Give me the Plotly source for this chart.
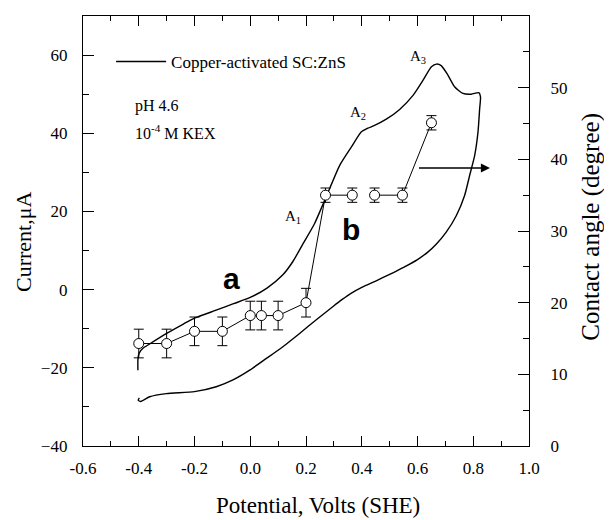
import plotly.graph_objects as go

# ---- Cyclic voltammogram (left axis) ----
cv_potential = [-0.403, -0.403, -0.399, -0.385, -0.361, -0.30, -0.24, -0.20, -0.12, -0.06,
                0.0, 0.06, 0.117, 0.153, 0.189, 0.23, 0.268, 0.321, 0.363, 0.398,
                0.422, 0.446, 0.488, 0.536, 0.584, 0.62, 0.65, 0.668, 0.685, 0.709,
                0.733, 0.763, 0.793, 0.82, 0.826,
                0.823, 0.817, 0.805, 0.787, 0.769, 0.739, 0.703, 0.667, 0.637, 0.60,
                0.55, 0.50, 0.45, 0.40, 0.36, 0.33, 0.297, 0.237, 0.177, 0.117,
                0.058, -0.002, -0.062, -0.122, -0.20, -0.301, -0.361, -0.393, -0.402, -0.398]
cv_current = [-20.6, -18.0, -16.3, -15.0, -13.9, -11.2, -8.8, -7.3, -5.2, -3.6,
              -2.0, 0.4, 3.8, 7.2, 11.7, 16.8, 23.0, 31.8, 36.5, 40.3,
              41.3, 42.0, 43.6, 46.1, 49.7, 53.6, 57.0, 57.7, 57.3, 54.9,
              51.9, 50.2, 50.0, 50.4, 49.3,
              46.3, 40.3, 34.3, 29.2, 24.1, 18.9, 14.7, 11.6, 9.6, 7.7,
              5.7, 3.9, 2.2, 0.6, -1.0, -2.5, -4.3, -7.7, -11.2, -14.6,
              -17.6, -20.6, -23.1, -24.85, -26.1, -26.6, -27.4, -28.6, -28.3, -27.7]

# ---- Contact angle (right axis) ----
ca_potential = [-0.4, -0.3, -0.2, -0.1, 0.0, 0.04, 0.1, 0.2, 0.27, 0.366, 0.446, 0.546, 0.65]
ca_angle = [14.3, 14.3, 16.0, 16.0, 18.2, 18.2, 18.2, 20.0, 35.0, 35.0, 35.0, 35.0, 45.1]
ca_error = [2, 2, 2, 2, 2, 2, 2, 2, 1, 1, 1, 1, 1]
ca_line_break = 10  # no connecting segment between 0.366 V and 0.446 V

x_ticks = [-0.6, -0.4, -0.2, 0.0, 0.2, 0.4, 0.6, 0.8, 1.0]
y_left_ticks = [-40, -20, 0, 20, 40, 60]
y_right_ticks = [0, 10, 20, 30, 40, 50, 60]

SERIF = "Liberation Serif"
SANS = "Liberation Sans"

fig = go.Figure()

fig.add_trace(go.Scatter(
    x=cv_potential, y=cv_current, mode="lines",
    line=dict(color="black", width=1.4, shape="spline", smoothing=0.6),
    name="Copper-activated SC:ZnS", showlegend=True, yaxis="y",
))

line_x = ca_potential[:ca_line_break] + [None] + ca_potential[ca_line_break:]
line_y = ca_angle[:ca_line_break] + [None] + ca_angle[ca_line_break:]
fig.add_trace(go.Scatter(
    x=line_x, y=line_y, mode="lines", connectgaps=False,
    line=dict(color="black", width=1), showlegend=False, yaxis="y2",
))
fig.add_trace(go.Scatter(
    x=ca_potential, y=ca_angle, mode="markers", yaxis="y2", showlegend=False,
    marker=dict(symbol="circle", size=10, color="white", line=dict(color="black", width=1)),
    error_y=dict(type="data", array=ca_error, visible=True, color="black", thickness=1, width=5),
))

C = dict(xanchor="center", yanchor="middle", showarrow=False)
annots = [
    dict(x=0.60, y=59.5, text="A<sub>3</sub>", xref="x", yref="y",
         font=dict(family=SERIF, size=15, color="black"), **C),
    dict(x=0.385, y=45.3, text="A<sub>2</sub>", xref="x", yref="y",
         font=dict(family=SERIF, size=15, color="black"), **C),
    dict(x=0.152, y=18.6, text="A<sub>1</sub>", xref="x", yref="y",
         font=dict(family=SERIF, size=15, color="black"), **C),
    dict(x=-0.069, y=2.8, text="<b>a</b>", xref="x", yref="y",
         font=dict(family=SANS, size=30, color="black"), **C),
    dict(x=0.363, y=15.5, text="<b>b</b>", xref="x", yref="y",
         font=dict(family=SANS, size=30, color="black"), **C),
    dict(x=-0.42, y=46.9, text="pH 4.6", xref="x", yref="y", showarrow=False,
         xanchor="left", yanchor="middle", font=dict(family=SERIF, size=16, color="black")),
    dict(x=-0.42, y=40.2, text="10<sup>-4</sup> M KEX", xref="x", yref="y", showarrow=False,
         xanchor="left", yanchor="middle", font=dict(family=SERIF, size=16, color="black")),
    dict(x=0.86, y=38.8, ax=0.60, ay=38.8, xref="x", yref="y2", axref="x", ayref="y2",
         text="", showarrow=True, arrowhead=2, arrowsize=1.3, arrowwidth=1.4, arrowcolor="black"),
    # axis titles
    dict(x=0.526, y=-0.139, xref="paper", yref="paper", text="Potential, Volts (SHE)",
         font=dict(family=SERIF, size=23, color="black"), **C),
    dict(x=-0.135, y=0.474, xref="paper", yref="paper", text="Current,\u03bcA", textangle=-90,
         font=dict(family=SERIF, size=22, color="black"), **C),
    dict(x=1.139, y=0.51, xref="paper", yref="paper", text="Contact angle (degree)", textangle=-90,
         font=dict(family=SERIF, size=25, color="black"), **C),
]

# The page body has an 8px margin, so the figure is 8px smaller and margins are reduced by 8px.
fig.update_layout(
    width=604, height=512,
    margin=dict(l=75, r=83, t=8, b=74, autoexpand=False),
    paper_bgcolor="white", plot_bgcolor="white",
    font=dict(family=SERIF, size=17, color="black"),
    annotations=annots,
    legend=dict(x=0.063, y=0.893, xanchor="left", yanchor="middle", itemwidth=50,
                bgcolor="rgba(0,0,0,0)", font=dict(family=SERIF, size=17, color="black")),
    xaxis=dict(range=[-0.6, 1.0], tickvals=x_ticks, ticktext=[f"{v:.1f}" for v in x_ticks],
               ticks="inside", ticklen=10, tickwidth=1.2, tickcolor="black",
               minor=dict(dtick=0.1, ticks="inside", ticklen=5, tickwidth=1.2, tickcolor="black"),
               showline=True, linecolor="black", linewidth=1.4, mirror="ticks",
               showgrid=False, zeroline=False, ticklabelstandoff=6, automargin=False,
               tickfont=dict(family=SERIF, size=17, color="black")),
    yaxis=dict(range=[-40, 70], tickvals=y_left_ticks,
               ticks="inside", ticklen=11, tickwidth=1.2, tickcolor="black",
               minor=dict(dtick=10, ticks="inside", ticklen=6, tickwidth=1.2, tickcolor="black"),
               showline=True, linecolor="black", linewidth=1.4,
               showgrid=False, zeroline=False, ticklabelstandoff=11, automargin=False,
               tickfont=dict(family=SERIF, size=17, color="black")),
    yaxis2=dict(range=[0, 60], tickvals=y_right_ticks, overlaying="y", side="right",
                ticks="inside", ticklen=11, tickwidth=1.2, tickcolor="black",
                minor=dict(dtick=5, ticks="inside", ticklen=6, tickwidth=1.2, tickcolor="black"),
                showline=True, linecolor="black", linewidth=1.4,
                showgrid=False, zeroline=False, ticklabelstandoff=17, automargin=False,
                tickfont=dict(family=SERIF, size=17, color="black")),
)

fig.write_html("out.html")
